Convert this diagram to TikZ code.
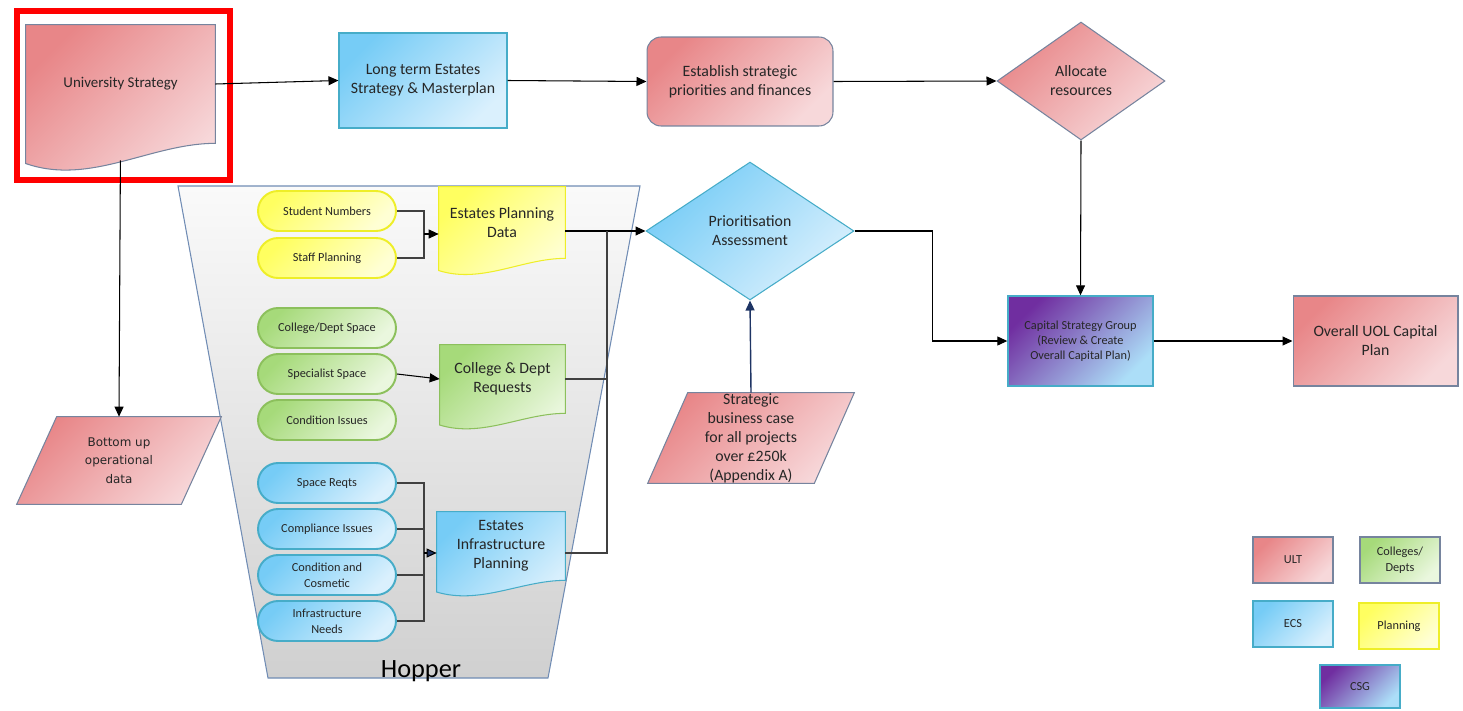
\documentclass[tikz,border=0pt]{standalone}
\usepackage{fontspec}
\setmainfont{Carlito}
\newfontfamily\widefont{DejaVu Sans}
\usetikzlibrary{shapes.geometric,arrows.meta,calc,backgrounds}

\definecolor{ultA}{RGB}{232,134,136}
\definecolor{ultB}{RGB}{247,216,218}
\definecolor{ultLine}{RGB}{118,132,158}
\definecolor{ecsA}{RGB}{118,204,246}
\definecolor{ecsB}{RGB}{218,240,253}
\definecolor{ecsLine}{RGB}{70,172,200}
\definecolor{colA}{RGB}{166,218,122}
\definecolor{colB}{RGB}{234,247,222}
\definecolor{colLine}{RGB}{140,192,92}
\definecolor{plnA}{RGB}{255,255,96}
\definecolor{plnB}{RGB}{255,255,212}
\definecolor{plnLine}{RGB}{238,238,40}
\definecolor{csgA}{RGB}{112,46,160}
\definecolor{csgB}{RGB}{172,222,248}
\definecolor{hopTop}{RGB}{250,250,250}
\definecolor{hopBot}{RGB}{208,208,208}
\definecolor{hopLine}{RGB}{112,140,180}
\definecolor{navy}{RGB}{30,52,100}

% document outline with wavy bottom below a node's box
\newcommand\docshape[2]{%
  \path[#2] let \p1=(#1.north west), \p2=(#1.south east), \n1={\y1-\y2}, \n2={\x2-\x1} in
    (\p1) -- (\x2,\y1) -- (\p2)
    .. controls ({\x2-0.34*\n2},\y2) and ({\x1+0.34*\n2},{\y2-0.36*\n1}) .. (\x1,{\y2-0.17*\n1}) -- cycle;}
% parallelogram filling a node's box
\newcommand\slantshape[2]{%
  \path[#2] let \p1=(#1.north west), \p2=(#1.south east) in
    (\x1,\y2) -- ({\x1+0.8cm},\y1) -- (\x2,\y1) -- ({\x2-0.8cm},\y2) -- cycle;}

\tikzset{
  ult/.style={top color=ultA, bottom color=ultB, shading angle=45},
  ecs/.style={top color=ecsA, bottom color=ecsB, shading angle=45},
  coll/.style={top color=colA, bottom color=colB, shading angle=45},
  plan/.style={top color=plnA, bottom color=plnB, shading angle=45},
  csg/.style={top color=csgA, bottom color=csgB, shading angle=45},
  lbl/.style={align=center, inner sep=0pt, text=black!85, font=\fontsize{9}{10.8}\selectfont},
  pill/.style={lbl, rectangle, rounded corners=0.4cm, minimum width=2.76cm, minimum height=0.8cm,
    line width=1.1pt, font=\fontsize{7}{9}\selectfont},
  legend/.style={lbl, rectangle, minimum width=1.6cm, minimum height=0.92cm, line width=0.7pt,
    font=\fontsize{7}{9}\selectfont},
  flow/.style={draw=black, line width=0.6pt, -{Triangle[length=2mm,width=1.8mm]}},
  link/.style={draw=black!75, line width=0.6pt}
}

\begin{document}
\begin{tikzpicture}[x=0.02cm, y=-0.02cm]
    \useasboundingbox (0,0) rectangle (1463,710);

    % Top row
    \node[lbl, minimum width=3.78cm, minimum height=2.36cm, font=\fontsize{8.5}{10}\selectfont] (us) at (120.5,84) {University Strategy};
    \node[lbl, rectangle, draw=ecsLine, line width=0.6pt, ecs, minimum width=3.36cm, minimum height=1.9cm] (lt) at (423,80.5) {Long term Estates\\Strategy \& Masterplan};
    \node[lbl, rectangle, rounded corners=0.28cm, draw=ultLine, line width=0.6pt, ult, minimum width=3.72cm, minimum height=1.78cm] (es) at (740,81.5) {Establish strategic\\priorities and finances};
    \node[lbl, diamond, draw=ultLine, line width=0.6pt, ult, minimum width=3.36cm, minimum height=2.36cm] (ar) at (1081,81) {Allocate\\resources};

    % Assessment and capital plan
    \node[lbl, diamond, draw=ecsLine, line width=0.6pt, ecs, minimum width=4.16cm, minimum height=2.76cm] (pa) at (750,231) {Prioritisation\\Assessment};
    \node[lbl, rectangle, draw=ecsLine, line width=0.8pt, csg, minimum width=2.9cm, minimum height=1.8cm, font=\fontsize{7}{8.5}\selectfont] (csg) at (1080.5,341) {Capital Strategy Group\\(Review \& Create\\Overall Capital Plan)};
    \node[lbl, rectangle, draw=ultLine, line width=0.6pt, ult, minimum width=3.3cm, minimum height=1.8cm] (ouc) at (1375.5,341) {Overall UOL Capital\\Plan};
    \node[lbl, minimum width=4.12cm, minimum height=1.8cm] (sbc) at (751,438) {Strategic\\business case\\for all projects\\over £250k\\(Appendix A)};
    \node[lbl, minimum width=4.08cm, minimum height=1.74cm, font=\widefont\fontsize{6.8}{10.6}\selectfont] (bud) at (119,460.5) {Bottom up\\operational\\data};

    % Hopper inputs
    \node[pill, draw=plnLine, plan] (sn) at (327,211) {Student Numbers};
    \node[pill, draw=plnLine, plan] (sp) at (327,258) {Staff Planning};
    \node[pill, draw=colLine, coll] (cd) at (327,328) {College/Dept Space};
    \node[pill, draw=colLine, coll] (ss) at (327,374) {Specialist Space};
    \node[pill, draw=colLine, coll] (ci) at (327,420) {Condition Issues};
    \node[pill, draw=ecsLine, ecs] (sr) at (327,483) {Space Reqts};
    \node[pill, draw=ecsLine, ecs] (co) at (327,529) {Compliance Issues};
    \node[pill, draw=ecsLine, ecs] (cc) at (327,575) {Condition and\\Cosmetic};
    \node[pill, draw=ecsLine, ecs] (in) at (327,621) {Infrastructure\\Needs};

    % Hopper outputs
    \node[lbl, minimum width=2.52cm, minimum height=1.42cm] (epd) at (502,222.5) {Estates Planning\\Data};
    \node[lbl, minimum width=2.5cm, minimum height=1.36cm] (cdr) at (502.5,379) {College \& Dept\\Requests};
    \node[lbl, minimum width=2.56cm, minimum height=1.36cm] (eip) at (501,546) {Estates\\Infrastructure\\Planning};
    \node[anchor=base, inner sep=0pt, font=\fontsize{15}{18}\selectfont] (hop) at (421,677) {Hopper};

    % Legend
    \node[legend, draw=ultLine, ult] (kult) at (1293,560) {ULT};
    \node[legend, draw=ultLine, coll] (kcol) at (1400,560) {Colleges/\\Depts};
    \node[legend, draw=ecsLine, ecs] (kecs) at (1293,624) {ECS};
    \node[legend, draw=plnLine, plan] (kpln) at (1399,626) {Planning};
    \node[legend, draw=ecsLine, csg, minimum height=0.86cm] (kcsg) at (1360,686.5) {CSG};

    % Shapes behind the texts
    \begin{scope}[on background layer]
        \path[draw=hopLine, line width=0.6pt, top color=hopTop, bottom color=hopBot] (178,186) -- (640,186) -- (548,678) -- (268,678) -- cycle;
        \docshape{us}{draw=ultLine, line width=0.6pt, ult}
        \docshape{epd}{draw=plnLine, line width=0.6pt, plan}
        \docshape{cdr}{draw=colLine, line width=0.6pt, coll}
        \docshape{eip}{draw=ecsLine, line width=0.6pt, ecs}
        \slantshape{sbc}{draw=ultLine, line width=0.6pt, ult}
        \slantshape{bud}{draw=ultLine, line width=0.6pt, ult}
    \end{scope}

    % Highlight frame
    \draw[red, line width=0.13cm] (17,11) rectangle (230,180);

    % Main flow
    \draw[flow] (us.east) -- (lt.west);
    \draw[flow] (lt.east) -- (es.west);
    \draw[flow] (es.east) -- (ar.west);
    \draw[flow] (ar.south) -- (csg.north);
    \draw[flow] (pa.east) -- ++(78,0) |- (csg.west);
    \draw[flow] (csg.east) -- (ouc.west);
    \draw[flow, navy, line width=0.8pt] (sbc.north) -- (pa.south);
    \draw[flow, shorten <=0.34cm] (us.south) -- (bud.north);

    % Inputs into hopper outputs
    \coordinate (jy) at (424,234);
    \coordinate (jb) at (424,553);
    \coordinate (jr) at (607,231);
    \draw[link] (sn.east) -| (jy);
    \draw[link] (sp.east) -| (jy);
    \draw[flow] (jy) -- (epd.west |- jy);
    \draw[flow] (ss.east) -- (cdr.west);
    \foreach \p in {sr,co,cc,in}
        \draw[link] (\p.east) -| (jb);
    \draw[flow, -{Triangle[length=2mm,width=1.8mm,fill=navy]}] (jb) -- (eip.west |- jb);

    % Hopper outputs to assessment
    \draw[flow] (epd.east |- pa.west) -- (pa.west);
    \draw[link] (eip.east |- jb) -| (jr);
    \draw[link] (cdr.east) -- (cdr.east -| jr);
\end{tikzpicture}
\end{document}
